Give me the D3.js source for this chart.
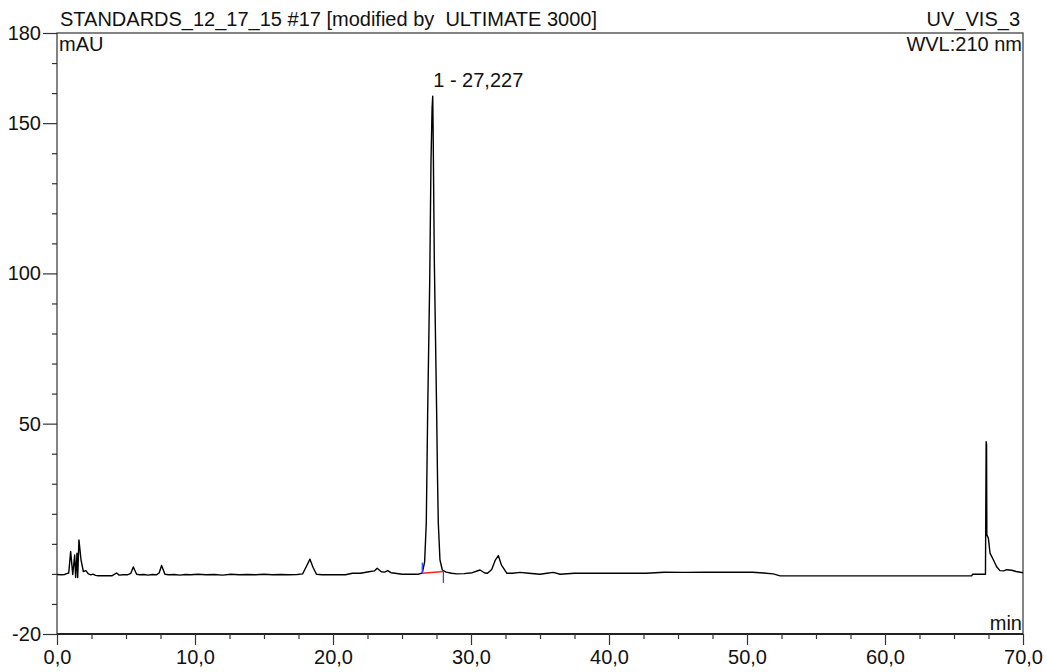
<!DOCTYPE html>
<html>
<head>
<meta charset="utf-8">
<script src="https://cdn.jsdelivr.net/npm/d3@7"></script>
<style>
  html, body { margin: 0; padding: 0; background: #fff; }
  svg { display: block; }
  text { font-family: "Liberation Sans", Arial, sans-serif; fill: #111; white-space: pre; }
</style>
</head>
<body>
<svg id="chart" width="1047" height="672"></svg>
<script>
// ---- data ----
const times = [
  0.0, 0.3, 0.55, 0.7, 0.85, 0.99, 1.14, 1.28, 1.35, 1.45, 1.5, 1.59, 1.74, 1.91, 2.1, 2.27, 2.45, 2.6, 2.8, 3.0,
  3.5, 4.0, 4.32, 4.5, 4.8, 5.1, 5.35, 5.53, 5.77, 6.0, 6.3, 6.6, 6.9, 7.2, 7.4, 7.58, 7.82, 8.1, 8.5, 8.9,
  9.3, 9.7, 10.2, 10.8, 11.4, 12.0, 12.6, 13.2, 13.8, 14.4, 15.0, 15.6, 16.2, 16.8, 17.4, 17.8, 18.05, 18.33, 18.55, 18.8,
  19.2, 20.0, 20.9, 21.4, 22.0, 22.6, 23.0, 23.2, 23.5, 23.75, 23.96, 24.2, 24.5, 25.0, 25.6, 26.2, 26.47, 26.64, 26.76, 26.86,
  27.01, 27.10, 27.18, 27.227, 27.26, 27.34, 27.43, 27.51, 27.57, 27.63, 27.75, 27.92, 28.2, 28.6, 28.96, 29.5, 30.1, 30.65, 31.0, 31.2,
  31.5, 31.75, 31.98, 32.2, 32.6, 33.0, 33.55, 34.2, 35.0, 35.5, 35.97, 36.45, 37.5, 39.0, 40.5, 42.7, 44.0, 45.5, 47.0, 48.5,
  50.4, 51.2, 51.9, 52.4, 54.0, 56.0, 58.0, 60.0, 62.0, 64.0, 66.28, 66.35, 67.28, 67.33, 67.36, 67.38, 67.49, 67.61, 67.85, 68.09,
  68.33, 68.6, 68.82, 69.18, 69.5, 70.0
];
const values = [
  -0.2, -0.3, -0.2, 0.1, 0.3, 7.5, -0.2, 6.3, -1.2, 6.9, -1.2, 11.3, 4.7, 0.8, 1.1, 0.0, -0.3, -0.1, -0.5, -0.6,
  -0.6, -0.6, 0.3, -0.4, -0.3, -0.3, 0.2, 2.3, -0.1, -0.3, -0.2, -0.4, -0.2, -0.3, 0.3, 2.8, -0.1, -0.3, -0.2, -0.4,
  -0.2, -0.3, -0.1, -0.3, -0.2, -0.4, -0.1, -0.3, -0.2, -0.3, -0.1, -0.3, -0.2, -0.3, -0.2, 0.0, 2.3, 4.9, 2.2, -0.1,
  -0.3, -0.3, -0.3, 0.2, 0.2, 0.7, 1.0, 1.9, 0.7, 0.6, 1.1, 0.4, 0.2, -0.1, -0.1, -0.1, 0.3, 4.0, 17.0, 53.7,
  98.0, 137.0, 155.0, 159.0, 146.0, 105.0, 78.0, 54.0, 33.0, 17.0, 4.7, 1.3, 0.6, 0.2, 0.0, 0.1, 0.4, 1.3, 0.3, 0.2,
  1.5, 4.5, 6.1, 3.0, 0.2, 0.2, 0.5, 0.2, -0.1, 0.2, 0.5, -0.1, 0.2, 0.2, 0.2, 0.2, 0.55, 0.5, 0.55, 0.55,
  0.55, 0.3, 0.0, -0.65, -0.65, -0.65, -0.65, -0.65, -0.65, -0.65, -0.65, -0.1, -0.1, 44.0, 43.0, 13.0, 11.9, 6.9, 4.7, 2.4,
  1.1, 1.0, 1.4, 1.2, 0.8, 0.4
];
const yMajorTicks = [180, 150, 100, 50, -20];
const yMajorLabels = ["180", "150", "100", "50", "-20"];
const yMinorTicks = [170, 160, 140, 130, 120, 110, 90, 80, 70, 60, 40, 30, 20, 10, 0, -10];
const xMajorTicks = [0, 10, 20, 30, 40, 50, 60, 70];
const xMajorLabels = ["0,0", "10,0", "20,0", "30,0", "40,0", "50,0", "60,0", "70,0"];
const xMinorTicks = [2.5, 5, 7.5, 12.5, 15, 17.5, 22.5, 25, 27.5, 32.5, 35, 37.5, 42.5, 45, 47.5, 52.5, 55, 57.5, 62.5, 65, 67.5];
const peakTime = 27.227;
const peakHeight = 159.0;
const peakLabel = "1 - 27,227";
const integStart = [26.47, 0.2];
const integEnd = [28.0, 0.8];

// ---- drawing ----
const svg = d3.select("#chart");
const L = 57, R = 1023, T = 33, B = 634;
const FS = "20px";
const x = d3.scaleLinear().domain([0, 70]).range([L, R]);
const y = d3.scaleLinear().domain([-20, 180]).range([B, T]);

// frame
svg.append("rect").attr("x", L).attr("y", T).attr("width", R - L).attr("height", B - T)
  .attr("fill", "none").attr("stroke", "#333").attr("stroke-width", 1.2);
svg.append("line").attr("x1", L).attr("x2", R).attr("y1", B).attr("y2", B)
  .attr("stroke", "#222").attr("stroke-width", 2);

// y axis ticks
const yAxisMaj = d3.axisLeft(y).tickValues(yMajorTicks).tickSize(14).tickPadding(2)
  .tickFormat((d, i) => yMajorLabels[i]);
const gy = svg.append("g").attr("transform", `translate(${L},0)`).call(yAxisMaj);
const yAxisMin = d3.axisLeft(y).tickValues(yMinorTicks).tickSize(5).tickFormat("");
const gy2 = svg.append("g").attr("transform", `translate(${L},0)`).call(yAxisMin);

// x axis ticks
const xAxisMaj = d3.axisBottom(x).tickValues(xMajorTicks).tickSize(11).tickPadding(5)
  .tickFormat((d, i) => xMajorLabels[i]);
const gx = svg.append("g").attr("transform", `translate(0,${B})`).call(xAxisMaj);
const xAxisMin = d3.axisBottom(x).tickValues(xMinorTicks).tickSize(5).tickFormat("");
const gx2 = svg.append("g").attr("transform", `translate(0,${B})`).call(xAxisMin);

[gy, gy2, gx, gx2].forEach(g => {
  g.select(".domain").remove();
  g.selectAll(".tick line").attr("stroke", "#333").attr("stroke-width", 1.2);
  g.selectAll(".tick text").style("font-family", "'Liberation Sans', Arial, sans-serif")
    .style("font-size", FS).attr("fill", "#111");
});

// trace
const pts = times.map((t, i) => [t, values[i]]);
svg.append("path").datum(pts)
  .attr("fill", "none").attr("stroke", "#000").attr("stroke-width", 1.4)
  .attr("stroke-linejoin", "round")
  .attr("d", d3.line().x(d => x(d[0])).y(d => y(d[1])));

// integration baseline and delimiters
svg.append("line")
  .attr("x1", x(integStart[0])).attr("y1", y(integStart[1]))
  .attr("x2", x(integEnd[0])).attr("y2", y(integEnd[1]))
  .attr("stroke", "#ff2020").attr("stroke-width", 1.5);
svg.append("line")
  .attr("x1", x(integStart[0])).attr("x2", x(integStart[0]))
  .attr("y1", y(integStart[1])).attr("y2", y(integStart[1] + 3.6))
  .attr("stroke", "#3344ff").attr("stroke-width", 1.3);
svg.append("line")
  .attr("x1", x(integEnd[0])).attr("x2", x(integEnd[0]))
  .attr("y1", y(integEnd[1])).attr("y2", y(integEnd[1] - 3.8))
  .attr("stroke", "#3344ff").attr("stroke-width", 1.3);

// peak label
svg.append("text").attr("x", x(peakTime) + 0.5).attr("y", y(peakHeight) - 9)
  .style("font-size", FS).text(peakLabel);

// titles
svg.append("text").attr("x", 60).attr("y", 26).style("font-size", FS)
  .text("STANDARDS_12_17_15 #17 [modified by  ULTIMATE 3000]");
svg.append("text").attr("x", 1020).attr("y", 26).attr("text-anchor", "end").style("font-size", FS)
  .text("UV_VIS_3");
svg.append("text").attr("x", 59).attr("y", 51).style("font-size", FS).text("mAU");
svg.append("text").attr("x", 1022).attr("y", 51).attr("text-anchor", "end").style("font-size", FS)
  .text("WVL:210 nm");
svg.append("text").attr("x", 1022).attr("y", 630).attr("text-anchor", "end").style("font-size", FS)
  .text("min");
</script>
</body>
</html>
